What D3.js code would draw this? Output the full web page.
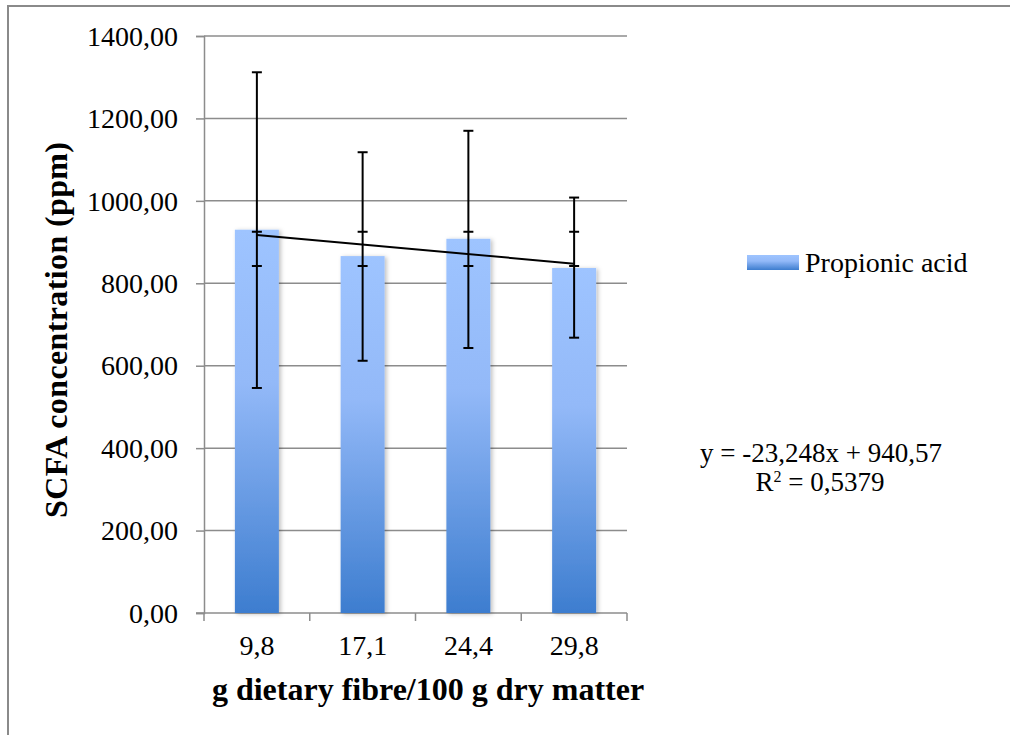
<!DOCTYPE html>
<html>
<head>
<meta charset="utf-8">
<script src="https://cdn.jsdelivr.net/npm/d3@7"></script>
<style>
  body { margin: 0; background: #fff; }
  text { font-family: "Liberation Serif", "Times New Roman", serif; fill: #000; }
</style>
</head>
<body>
<script>
// data
var categories = ["9,8", "17,1", "24,4", "29,8"];
var propionic = [930, 866, 908, 837];
var errHigh = [1312, 1118, 1170, 1008];
var errLow = [546, 612, 643, 668];
// the second set of caps that sits on every bar
var innerHigh = [925, 925, 925, 925];
var innerLow = [842, 842, 842, 842];
var trendSlope = -23.248, trendIntercept = 940.57;
var yTicks = [0, 200, 400, 600, 800, 1000, 1200, 1400];

var svg = d3.select("body").append("svg")
  .attr("width", 1010)
  .attr("height", 735);

var defs = svg.append("defs");
var grad = defs.append("linearGradient")
  .attr("id", "barGrad")
  .attr("x1", 0).attr("y1", 0).attr("x2", 0).attr("y2", 1);
grad.append("stop").attr("offset", "0%").attr("stop-color", "#9ec4ff");
grad.append("stop").attr("offset", "40%").attr("stop-color", "#93b9f8");
grad.append("stop").attr("offset", "100%").attr("stop-color", "#3d7dcf");

var shadow = defs.append("filter").attr("id", "shadow")
  .attr("x", "-20%").attr("y", "-5%").attr("width", "150%").attr("height", "115%");
shadow.append("feDropShadow")
  .attr("dx", 2).attr("dy", 1).attr("stdDeviation", 2)
  .attr("flood-color", "#000").attr("flood-opacity", 0.25);

// outer frame
svg.append("rect")
  .attr("x", 8).attr("y", 6)
  .attr("width", 1010).attr("height", 740)
  .attr("fill", "none")
  .attr("stroke", "#8a8a8a")
  .attr("stroke-width", 2);

var plotL = 204, plotR = 627, plotT = 36, plotB = 613;

var x = d3.scaleBand().domain(categories).range([plotL, plotR])
  .paddingInner(0.584).paddingOuter(0.292);
var y = d3.scaleLinear().domain([0, 1400]).range([plotB, plotT]);

// gridlines
svg.append("g").selectAll("line")
  .data(yTicks.slice(1))
  .enter().append("line")
  .attr("x1", plotL).attr("x2", plotR)
  .attr("y1", function (d) { return y(d); })
  .attr("y2", function (d) { return y(d); })
  .attr("stroke", "#8c8c8c")
  .attr("stroke-width", 1.5);

// y axis
var yAxis = svg.append("g")
  .attr("transform", "translate(" + plotL + ",0)")
  .call(d3.axisLeft(y).tickValues(yTicks).tickSize(8).tickPadding(18)
    .tickFormat(function (d) { return d3.format(".2f")(d).replace(".", ","); }));
yAxis.select(".domain").attr("stroke", "#8c8c8c").attr("stroke-width", 1.5);
yAxis.selectAll(".tick line").attr("stroke", "#8c8c8c").attr("stroke-width", 1.5);
yAxis.selectAll(".tick text")
  .attr("font-family", "Liberation Serif")
  .attr("font-size", 28)
  .attr("dy", "0.33em");

// x axis, ticks between categories
var xAxisG = svg.append("g").attr("transform", "translate(0," + plotB + ")");
xAxisG.append("line")
  .attr("x1", plotL - 8).attr("x2", plotR)
  .attr("stroke", "#8c8c8c").attr("stroke-width", 1.5);
var step = (plotR - plotL) / categories.length;
xAxisG.selectAll(".xt")
  .data(d3.range(categories.length + 1))
  .enter().append("line")
  .attr("x1", function (i) { return plotL + i * step; })
  .attr("x2", function (i) { return plotL + i * step; })
  .attr("y1", 0).attr("y2", 8)
  .attr("stroke", "#8c8c8c").attr("stroke-width", 1.5);
xAxisG.selectAll(".xl")
  .data(categories)
  .enter().append("text")
  .attr("x", function (d) { return x(d) + x.bandwidth() / 2; })
  .attr("y", 42)
  .attr("text-anchor", "middle")
  .attr("font-size", 28)
  .text(function (d) { return d; });

// bars
svg.append("g").selectAll("rect")
  .data(propionic)
  .enter().append("rect")
  .attr("x", function (d, i) { return x(categories[i]); })
  .attr("y", function (d) { return y(d); })
  .attr("width", x.bandwidth())
  .attr("height", function (d) { return y(0) - y(d); })
  .attr("fill", "url(#barGrad)")
  .attr("filter", "url(#shadow)");

// trendline
var cx = function (i) { return x(categories[i]) + x.bandwidth() / 2; };
svg.append("line")
  .attr("x1", cx(0)).attr("y1", y(trendSlope * 1 + trendIntercept))
  .attr("x2", cx(3)).attr("y2", y(trendSlope * 4 + trendIntercept))
  .attr("stroke", "#000").attr("stroke-width", 2);

// error bars
var eb = svg.append("g").attr("stroke", "#000").attr("stroke-width", 2);
categories.forEach(function (c, i) {
  var xc = cx(i);
  eb.append("line").attr("x1", xc).attr("x2", xc)
    .attr("y1", y(errHigh[i])).attr("y2", y(errLow[i]));
  [errHigh[i], errLow[i], innerHigh[i], innerLow[i]].forEach(function (v) {
    eb.append("line").attr("x1", xc - 5).attr("x2", xc + 5)
      .attr("y1", y(v)).attr("y2", y(v));
  });
});

// axis titles
svg.append("text")
  .attr("transform", "translate(67,330) rotate(-90)")
  .attr("text-anchor", "middle")
  .attr("font-size", 32)
  .attr("font-weight", "bold")
  .attr("textLength", 376)
  .attr("lengthAdjust", "spacing")
  .text("SCFA concentration (ppm)");

svg.append("text")
  .attr("x", 428).attr("y", 700)
  .attr("text-anchor", "middle")
  .attr("font-size", 32)
  .attr("font-weight", "bold")
  .text("g dietary fibre/100 g dry matter");

// legend
svg.append("rect")
  .attr("x", 747).attr("y", 255)
  .attr("width", 52).attr("height", 15)
  .attr("fill", "url(#barGrad)");
svg.append("text")
  .attr("x", 805).attr("y", 272)
  .attr("font-size", 28)
  .text("Propionic acid");

// trend equation
svg.append("text")
  .attr("text-anchor", "middle")
  .attr("font-size", 27)
  .attr("x", 821).attr("y", 462)
  .text("y = -23,248x + 940,57");
var r2 = svg.append("text").attr("text-anchor", "middle").attr("font-size", 27)
  .attr("x", 820).attr("y", 491);
r2.append("tspan").text("R");
r2.append("tspan").attr("font-size", 16).attr("dy", -9).text("2");
r2.append("tspan").attr("dy", 9).text(" = 0,5379");
</script>
</body>
</html>
